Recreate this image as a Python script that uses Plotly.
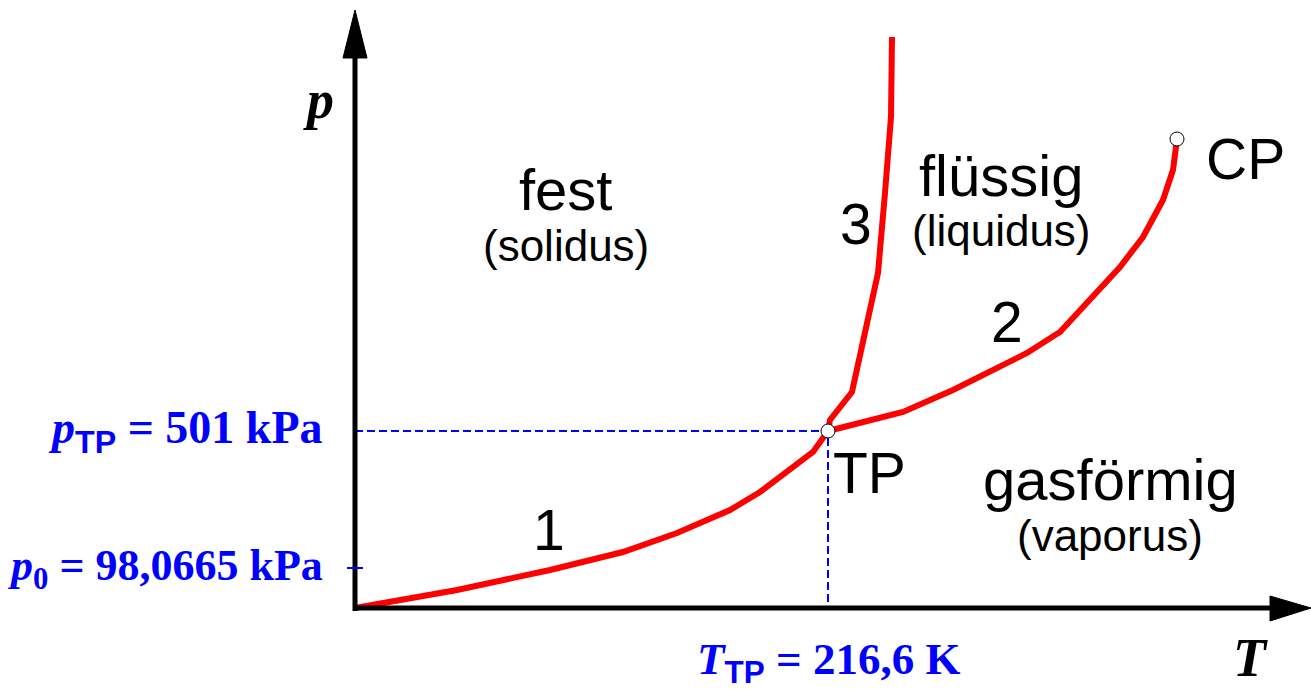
import plotly.graph_objects as go

# Schematic phase diagram data (arbitrary units: T to the right, p upward)
subl_T = [0, 102, 195, 268, 322, 375, 405, 428, 458, 473]
subl_p = [0, 18, 38, 56, 75, 98, 116, 133, 156, 177]

vap_T = [473, 548, 598, 672, 705, 742, 765, 788, 808, 818, 822, 822]
vap_p = [177, 196, 218, 255, 276, 315, 341, 371, 408, 438, 461, 469]

melt_T = [473, 475, 497, 515, 523, 530, 536, 537]
melt_p = [177, 188, 216, 295, 335, 415, 491, 571]

TP = (473, 177)
CP = (822, 469)
p0_level = 40

T_MIN, T_MAX = -355, 956
P_MIN, P_MAX = -81, 608
X_AXIS_END = 917
Y_AXIS_END = 550

region_labels = [
    ("fest", 211, 419, 58), ("(solidus)", 211, 363, 44),
    ("flüssig", 646, 433, 58), ("(liquidus)", 646, 378, 44),
    ("gasförmig", 755, 129, 58), ("(vaporus)", 755, 73, 44),
    ("1", 194, 78, 57), ("2", 652, 286, 57), ("3", 501, 384, 57),
    ("TP", 514, 135, 57), ("CP", 890, 449, 57),
]

RED = "#ff0000"
BLUE = "#0000ff"

fig = go.Figure()

for xs, ys in [(subl_T, subl_p), (vap_T, vap_p), (melt_T, melt_p)]:
    fig.add_trace(go.Scatter(x=xs, y=ys, mode="lines",
                             line=dict(color=RED, width=6), hoverinfo="skip"))

# dashed guide lines
fig.add_trace(go.Scatter(x=[0, TP[0], TP[0]], y=[TP[1], TP[1], 0], mode="lines",
                         line=dict(color=BLUE, width=2, dash="8px,4px"), hoverinfo="skip"))

fig.add_trace(go.Scatter(x=[TP[0], CP[0]], y=[TP[1], CP[1]], mode="markers",
                         marker=dict(size=14, color="white",
                                     line=dict(color="black", width=1)),
                         hoverinfo="skip"))

shapes = [
    dict(type="line", x0=0, y0=0, x1=X_AXIS_END, y1=0, xref="x", yref="y",
         line=dict(color="black", width=5)),
    dict(type="line", x0=0, y0=-3, x1=0, y1=Y_AXIS_END, xref="x", yref="y",
         line=dict(color="black", width=5)),
    dict(type="path", xref="x", yref="y",
         path=f"M {X_AXIS_END-2},12 L {T_MAX},0 L {X_AXIS_END-2},-13 Z",
         fillcolor="black", line=dict(color="black", width=1)),
    dict(type="path", xref="x", yref="y",
         path=f"M -12,{Y_AXIS_END} L 0,{P_MAX-10} L 12,{Y_AXIS_END} Z",
         fillcolor="black", line=dict(color="black", width=1)),
    dict(type="line", x0=-8, y0=p0_level, x1=8, y1=p0_level, xref="x", yref="y",
         line=dict(color=BLUE, width=2)),
]

annotations = []
for txt, x, y, s in region_labels:
    annotations.append(dict(x=x, y=y, xref="x", yref="y", text=txt, showarrow=False,
                            xanchor="center", yanchor="middle",
                            font=dict(family="Liberation Sans, Arial", size=s, color="black")))

serif = dict(family="Liberation Serif, Times New Roman", size=46, color=BLUE, weight="bold")
serif_p0 = dict(serif, size=44)
serif_t = dict(serif, size=45)
sub_sans = '<span style="font-family:Liberation Sans, Arial">TP</span>'
annotations += [
    dict(x=-30, y=TP[1], xref="x", yref="y", showarrow=False, xanchor="right", yanchor="middle",
         text=f"<i>p</i><sub>{sub_sans}</sub> = 501 kPa", font=serif),
    dict(x=-30, y=p0_level, xref="x", yref="y", showarrow=False, xanchor="right", yanchor="middle",
         text="<i>p</i><sub>0</sub> = 98,0665 kPa", font=serif_p0),
    dict(x=TP[0], y=-54, xref="x", yref="y", showarrow=False, xanchor="center", yanchor="middle",
         text=f"<i>T</i><sub>{sub_sans}</sub> = 216,6 K", font=serif_t),
    dict(x=-37, y=508, xref="x", yref="y", showarrow=False, xanchor="center", yanchor="middle",
         text="<i>p</i>", font=dict(family="Liberation Serif, Times New Roman", size=54,
                                     color="black", weight="bold")),
    dict(x=895, y=-50, xref="x", yref="y", showarrow=False, xanchor="center", yanchor="middle",
         text="<i>T</i>", font=dict(family="Liberation Serif, Times New Roman", size=54,
                                     color="black", weight="bold")),
]

fig.update_layout(
    width=1311, height=689, margin=dict(l=0, r=0, t=0, b=0),
    paper_bgcolor="white", plot_bgcolor="white", showlegend=False,
    xaxis=dict(range=[T_MIN, T_MAX], visible=False, fixedrange=True),
    yaxis=dict(range=[P_MIN, P_MAX], visible=False, fixedrange=True),
    shapes=shapes, annotations=annotations,
)

fig.write_html("out.html", config={"displayModeBar": False},
               post_script="document.body.style.margin='0';document.body.style.overflow='hidden';")
